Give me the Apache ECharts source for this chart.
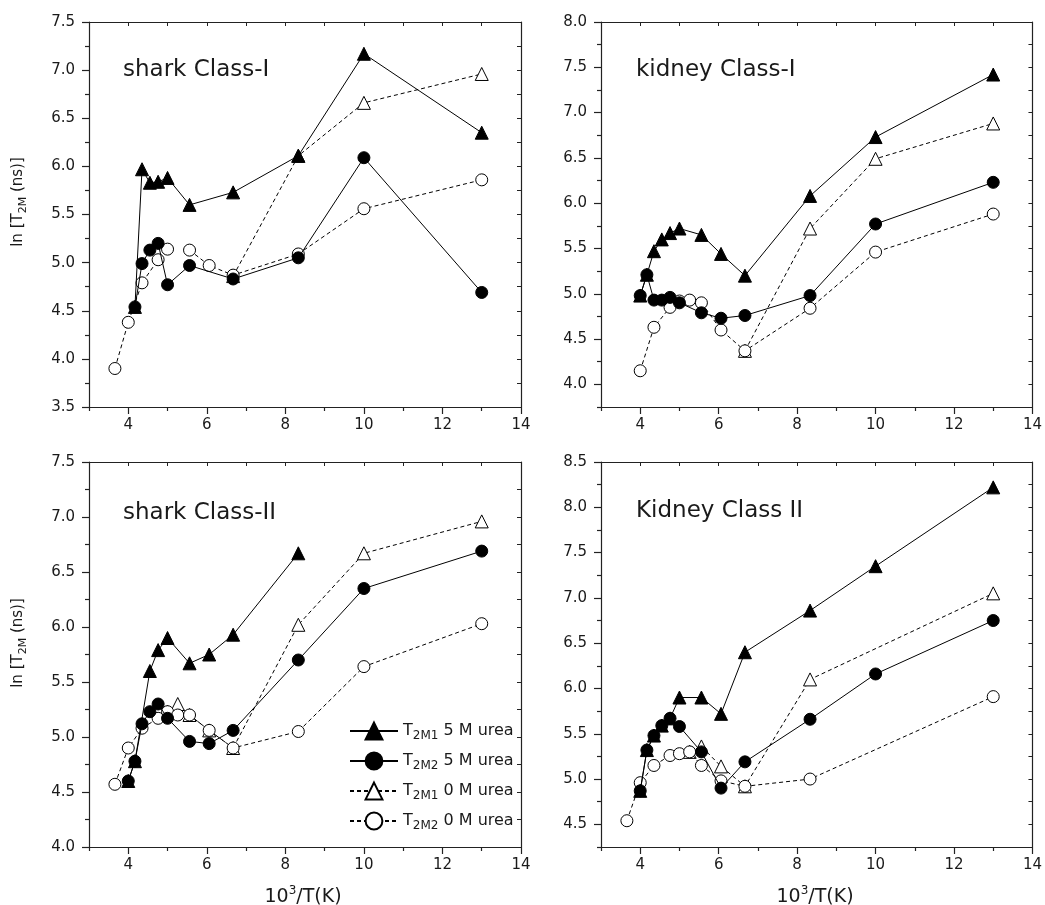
<!DOCTYPE html>
<html>
<head>
<meta charset="utf-8">
<script src="https://cdn.jsdelivr.net/npm/echarts@6/dist/echarts.min.js"></script>
<style>html,body{margin:0;padding:0;background:#fff;}#c{width:1045px;height:905px;}</style>
</head>
<body>
<div id="c"></div>
<script>
// ---------- DATA ----------
const panelTitles = ['shark Class-I', 'kidney Class-I', 'shark Class-II', 'Kidney Class II'];
const seriesNames = ['T2M1 5 M urea', 'T2M2 5 M urea', 'T2M1 0 M urea', 'T2M2 0 M urea'];

// x tick values (10^3/T)
const xMajorTicks = [4, 6, 8, 10, 12, 14];
const xMinorTicks = [3, 5, 7, 9, 11, 13];
const xAllTicks = [3, 4, 5, 6, 7, 8, 9, 10, 11, 12, 13, 14];

// y axis ranges and ticks per panel
const yRange1 = [3.5, 7.5];
const yMajor1 = [3.5, 4.0, 4.5, 5.0, 5.5, 6.0, 6.5, 7.0, 7.5];
const yMinor1 = [3.75, 4.25, 4.75, 5.25, 5.75, 6.25, 6.75, 7.25];
const yRange2 = [3.75, 8.0];
const yMajor2 = [4.0, 4.5, 5.0, 5.5, 6.0, 6.5, 7.0, 7.5, 8.0];
const yMinor2 = [3.75, 4.25, 4.75, 5.25, 5.75, 6.25, 6.75, 7.25, 7.75];
const yRange3 = [4.0, 7.5];
const yMajor3 = [4.0, 4.5, 5.0, 5.5, 6.0, 6.5, 7.0, 7.5];
const yMinor3 = [4.25, 4.75, 5.25, 5.75, 6.25, 6.75, 7.25];
const yRange4 = [4.25, 8.5];
const yMajor4 = [4.5, 5.0, 5.5, 6.0, 6.5, 7.0, 7.5, 8.0, 8.5];
const yMinor4 = [4.25, 4.75, 5.25, 5.75, 6.25, 6.75, 7.25, 7.75, 8.25];

// Panel 1: shark Class-I
const p1_T1_5M_x = [4.17, 4.35, 4.55, 4.76, 5.0, 5.56, 6.67, 8.33, 10, 13];
const p1_T1_5M_y = [4.54, 5.97, 5.83, 5.84, 5.88, 5.60, 5.73, 6.11, 7.17, 6.35];
const p1_T2_5M_x = [4.17, 4.35, 4.55, 4.76, 5.0, 5.56, 6.67, 8.33, 10, 13];
const p1_T2_5M_y = [4.54, 4.99, 5.13, 5.20, 4.77, 4.97, 4.83, 5.05, 6.09, 4.69];
const p1_T1_0M_x = [6.67, 8.33, 10, 13];
const p1_T1_0M_y = [4.86, 6.11, 6.66, 6.96];
const p1_T2_0M_x = [3.66, 4.0, 4.35, 4.76, 5.0, 5.28, 5.56, 6.06, 6.67, 8.33, 10, 13];
const p1_T2_0M_y = [3.90, 4.38, 4.79, 5.03, 5.14, null, 5.13, 4.97, 4.87, 5.09, 5.56, 5.86];

// Panel 2: kidney Class-I
const p2_T1_5M_x = [4.0, 4.17, 4.35, 4.55, 4.76, 5.0, 5.56, 6.06, 6.67, 8.33, 10, 13];
const p2_T1_5M_y = [4.98, 5.21, 5.47, 5.60, 5.67, 5.72, 5.65, 5.44, 5.20, 6.08, 6.73, 7.42];
const p2_T2_5M_x = [4.0, 4.17, 4.35, 4.55, 4.76, 5.0, 5.56, 6.06, 6.67, 8.33, 10, 13];
const p2_T2_5M_y = [4.98, 5.21, 4.93, 4.93, 4.96, 4.90, 4.79, 4.73, 4.76, 4.98, 5.77, 6.23];
const p2_T1_0M_x = [6.67, 8.33, 10, 13];
const p2_T1_0M_y = [4.37, 5.72, 6.49, 6.88];
const p2_T2_0M_x = [4.0, 4.35, 4.76, 5.0, 5.26, 5.56, 6.06, 6.67, 8.33, 10, 13];
const p2_T2_0M_y = [4.15, 4.63, 4.85, 4.92, 4.93, 4.90, 4.60, 4.37, 4.84, 5.46, 5.88];

// Panel 3: shark Class-II
const p3_T1_5M_x = [4.0, 4.17, 4.55, 4.76, 5.0, 5.56, 6.06, 6.67, 8.33];
const p3_T1_5M_y = [4.60, 4.78, 5.60, 5.79, 5.90, 5.67, 5.75, 5.93, 6.67];
const p3_T2_5M_x = [4.0, 4.17, 4.35, 4.55, 4.76, 5.0, 5.56, 6.06, 6.67, 8.33, 10, 13];
const p3_T2_5M_y = [4.60, 4.78, 5.12, 5.23, 5.30, 5.17, 4.96, 4.94, 5.06, 5.70, 6.35, 6.69];
const p3_T1_0M_x = [5.0, 5.26, 5.56, 6.06, 6.67, 8.33, 10, 13];
const p3_T1_0M_y = [5.23, 5.30, 5.20, 5.06, 4.90, 6.02, 6.67, 6.96];
const p3_T2_0M_x = [3.66, 4.0, 4.35, 4.76, 5.0, 5.26, 5.56, 6.06, 6.67, 8.33, 10, 13];
const p3_T2_0M_y = [4.57, 4.90, 5.08, 5.17, 5.23, 5.20, 5.20, 5.06, 4.90, 5.05, 5.64, 6.03];

// Panel 4: Kidney Class II
const p4_T1_5M_x = [4.0, 4.17, 4.35, 4.55, 4.76, 5.0, 5.56, 6.06, 6.67, 8.33, 10, 13];
const p4_T1_5M_y = [4.87, 5.32, 5.48, 5.59, 5.67, 5.90, 5.90, 5.72, 6.40, 6.86, 7.35, 8.22];
const p4_T2_5M_x = [4.0, 4.17, 4.35, 4.55, 4.76, 5.0, 5.56, 6.06, 6.67, 8.33, 10, 13];
const p4_T2_5M_y = [4.87, 5.32, 5.48, 5.59, 5.67, 5.58, 5.30, 4.90, 5.19, 5.66, 6.16, 6.75];
const p4_T1_0M_x = [5.26, 5.56, 6.06, 6.67, 8.33, 13];
const p4_T1_0M_y = [5.30, 5.36, 5.14, 4.92, 6.10, 7.05];
const p4_T2_0M_x = [3.66, 4.0, 4.35, 4.76, 5.0, 5.26, 5.56, 6.06, 6.67, 8.33, 13];
const p4_T2_0M_y = [4.54, 4.96, 5.15, 5.26, 5.28, 5.30, 5.15, 4.98, 4.92, 5.00, 5.91];

// ---------- BUILD ----------
const FONT = 'DejaVu Sans';
const TXT = '#1a1a1a';
const AX = '#222';

const panels = [
  {x: [p1_T1_5M_x, p1_T2_5M_x, p1_T1_0M_x, p1_T2_0M_x], y: [p1_T1_5M_y, p1_T2_5M_y, p1_T1_0M_y, p1_T2_0M_y], range: yRange1, major: yMajor1, minor: yMinor1, triTop: true},
  {x: [p2_T1_5M_x, p2_T2_5M_x, p2_T1_0M_x, p2_T2_0M_x], y: [p2_T1_5M_y, p2_T2_5M_y, p2_T1_0M_y, p2_T2_0M_y], range: yRange2, major: yMajor2, minor: yMinor2, triTop: false},
  {x: [p3_T1_5M_x, p3_T2_5M_x, p3_T1_0M_x, p3_T2_0M_x], y: [p3_T1_5M_y, p3_T2_5M_y, p3_T1_0M_y, p3_T2_0M_y], range: yRange3, major: yMajor3, minor: yMinor3, triTop: false},
  {x: [p4_T1_5M_x, p4_T2_5M_x, p4_T1_0M_x, p4_T2_0M_x], y: [p4_T1_5M_y, p4_T2_5M_y, p4_T1_0M_y, p4_T2_0M_y], range: yRange4, major: yMajor4, minor: yMinor4, triTop: false}
];

const gridPos = [
  {left: 89, top: 22, width: 432, height: 385},
  {left: 601, top: 22, width: 432, height: 385},
  {left: 89, top: 462, width: 432, height: 385},
  {left: 601, top: 462, width: 432, height: 385}
];

const styles = [
  {symbol: 'triangle', size: 13, fill: '#000', dash: 'solid'},
  {symbol: 'circle', size: 12, fill: '#000', dash: 'solid'},
  {symbol: 'triangle', size: 13, fill: '#fff', dash: [4, 3]},
  {symbol: 'circle', size: 12, fill: '#fff', dash: [4, 3]}
];

const grids = [], xAxes = [], yAxes = [], series = [];
const allY = (r) => { const a = []; for (let v = r[0]; v <= r[1] + 1e-9; v += 0.25) a.push(+v.toFixed(2)); return a; };

panels.forEach((p, g) => {
  grids.push(Object.assign({containLabel: false}, gridPos[g]));
  const base = {type: 'value', gridIndex: g, min: 3, max: 14, splitLine: {show: false}};
  xAxes.push(Object.assign({}, base, {
    position: 'bottom',
    axisLine: {show: true, onZero: false, lineStyle: {color: AX, width: 1.2}},
    axisTick: {show: true, inside: false, length: 7, customValues: xMajorTicks, lineStyle: {color: AX, width: 1.2}},
    axisLabel: {show: true, customValues: xMajorTicks, margin: 11, fontSize: 15, fontFamily: FONT, color: TXT, formatter: v => String(v)}
  }));
  xAxes.push(Object.assign({}, base, {
    position: 'bottom',
    axisLine: {show: false, onZero: false},
    axisTick: {show: true, inside: false, length: 4, customValues: xMinorTicks, lineStyle: {color: AX, width: 1.2}},
    axisLabel: {show: false}
  }));
  xAxes.push(Object.assign({}, base, {
    position: 'top',
    axisLine: {show: true, onZero: false, lineStyle: {color: AX, width: 1.2}},
    axisTick: {show: true, inside: true, length: 4, customValues: xAllTicks, lineStyle: {color: AX, width: 1}},
    axisLabel: {show: false}
  }));
  const ybase = {type: 'value', gridIndex: g, min: p.range[0], max: p.range[1], splitLine: {show: false}};
  yAxes.push(Object.assign({}, ybase, {
    position: 'left',
    axisLine: {show: true, onZero: false, lineStyle: {color: AX, width: 1.2}},
    axisTick: {show: true, inside: false, length: 7, customValues: p.major, lineStyle: {color: AX, width: 1.2}},
    axisLabel: {show: true, customValues: p.major, margin: 14, fontSize: 15, fontFamily: FONT, color: TXT, formatter: v => v.toFixed(1)}
  }));
  yAxes.push(Object.assign({}, ybase, {
    position: 'left',
    axisLine: {show: false, onZero: false},
    axisTick: {show: true, inside: false, length: 4, customValues: p.minor, lineStyle: {color: AX, width: 1.2}},
    axisLabel: {show: false}
  }));
  yAxes.push(Object.assign({}, ybase, {
    position: 'right',
    axisLine: {show: true, onZero: false, lineStyle: {color: AX, width: 1.2}},
    axisTick: {show: true, inside: true, length: 4, customValues: allY(p.range), lineStyle: {color: AX, width: 1}},
    axisLabel: {show: false}
  }));

  styles.forEach((s, k) => {
    const data = p.x[k].map((xv, i) => p.y[k][i] == null ? [xv, '-'] : [xv, p.y[k][i]]);
    let z = [3, 4, 1, 2][k];
    if (p.triTop && k === 0) z = 5;
    series.push({
      name: seriesNames[k],
      type: 'line',
      xAxisIndex: 3 * g,
      yAxisIndex: 3 * g,
      data: data,
      z: z,
      symbol: s.symbol,
      symbolSize: s.size,
      showAllSymbol: true,
      connectNulls: false,
      lineStyle: {color: '#000', width: 1, type: s.dash},
      itemStyle: {color: s.fill, borderColor: '#000', borderWidth: 1},
      emphasis: {disabled: true},
      animation: false
    });
  });
});

const graphics = [];
const titlePos = [[123, 70], [636, 70], [123, 513], [636, 511]];
panelTitles.forEach((t, i) => {
  graphics.push({type: 'text', x: titlePos[i][0], y: titlePos[i][1],
    style: {text: t, fontFamily: FONT, fontSize: 23, fill: TXT, align: 'left', verticalAlign: 'middle'}});
});
const yLabelRich = {
  a: {fontFamily: FONT, fontSize: 15, lineHeight: 20, fill: TXT},
  b: {fontFamily: FONT, fontSize: 11, lineHeight: 10, padding: [10, 0, 0, 0], fill: TXT}
};
[202, 643].forEach(cy => {
  graphics.push({type: 'text', x: 18, y: cy, rotation: Math.PI / 2,
    style: {text: '{a|ln [T}{b|2M}{a| (ns)]}', rich: yLabelRich, align: 'center', verticalAlign: 'middle', fill: TXT}});
});
const xLabelRich = {
  a: {fontFamily: FONT, fontSize: 19, lineHeight: 22, fill: TXT},
  b: {fontFamily: FONT, fontSize: 12, lineHeight: 11, padding: [0, 0, 12, 0], fill: TXT}
};
[303, 815].forEach(cx => {
  graphics.push({type: 'text', x: cx, y: 897,
    style: {text: '{a|10}{b|3}{a|/T(K)}', rich: xLabelRich, align: 'center', verticalAlign: 'middle', fill: TXT}});
});

const option = {
  animation: false,
  backgroundColor: '#fff',
  grid: grids,
  xAxis: xAxes,
  yAxis: yAxes,
  series: series,
  graphic: graphics,
  legend: {
    data: seriesNames,
    orient: 'vertical',
    left: 349,
    top: 720,
    padding: 0,
    itemWidth: 48,
    itemHeight: 21,
    itemGap: 8,
    selectedMode: false,
    formatter: function (n) {
      const m = n.match(/^T(2M\d) (.*)$/);
      return '{t|T}{s|' + m[1] + '}{t| ' + m[2] + '}';
    },
    textStyle: {
      color: TXT,
      fontFamily: FONT,
      fontSize: 16,
      rich: {
        t: {fontFamily: FONT, fontSize: 16, lineHeight: 20, color: TXT},
        s: {fontFamily: FONT, fontSize: 12, lineHeight: 10, padding: [10, 0, 0, 0], color: TXT}
      }
    }
  }
};

const chart = echarts.init(document.getElementById('c'), null, {renderer: 'canvas'});
chart.setOption(option);
</script>
</body>
</html>
